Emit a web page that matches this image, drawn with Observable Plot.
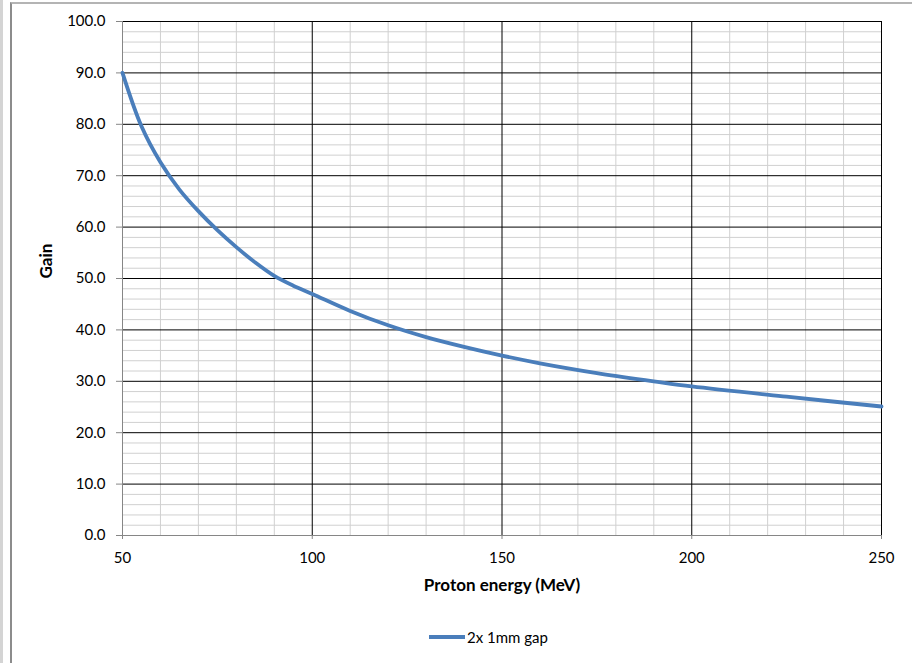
<!DOCTYPE html>
<html>
<head>
<meta charset="utf-8">
<script src="https://cdn.jsdelivr.net/npm/d3@7"></script>
<script src="https://cdn.jsdelivr.net/npm/@observablehq/plot@0.6"></script>
<style>
  html, body { margin: 0; padding: 0; background: #fff; width: 912px; height: 663px; overflow: hidden; }
  body { position: relative; font-family: Lato, "Open Sans", sans-serif; }
  #strip { position: absolute; left: 0; top: 0; width: 3px; height: 663px; background: #d4d4d4; }
  #frame { position: absolute; left: 10px; top: 2px; width: 910px; height: 670px; border-left: 2px solid #8c8c8c; border-top: 2px solid #b4b4b4; pointer-events: none; }
  #chart { position: absolute; left: 0; top: 0; }
  #legend { position: absolute; left: 0; top: 627px; width: 912px; height: 20px; font-size: 15px; color: #000; }
  #legend .sw { position: absolute; left: 429px; top: 8px; width: 36px; height: 4px; background: #4a7ebb; }
  #legend .lb { position: absolute; left: 467px; top: 0px; line-height: 20px; white-space: nowrap; }
</style>
</head>
<body>
<div id="strip"></div>
<div id="chart"></div>
<div id="legend"><div class="sw"></div><div class="lb">2x 1mm gap</div></div>
<div id="frame"></div>
<script>
// Series: proton energy (MeV) vs gain
const energy = [50, 55, 60, 65, 70, 75, 80, 85, 90, 95, 100, 110, 120, 130, 140, 150, 160, 175, 190, 200, 225, 250];
const gain   = [90, 79.6, 72.6, 67.3, 63.1, 59.4, 56.1, 53.1, 50.5, 48.6, 47.0, 43.7, 40.9, 38.6, 36.7, 35.0, 33.5, 31.6, 30.0, 29.0, 27.0, 25.1];
const seriesName = "2x 1mm gap";

// Axis ticks and gridlines
const xTicks = [50, 100, 150, 200, 250];
const yTicks = [0, 10, 20, 30, 40, 50, 60, 70, 80, 90, 100];
const xMajor = [100, 150, 200, 250];
const yMajor = [10, 20, 30, 40, 50, 60, 70, 80, 90, 100];
const xMinor = [60, 70, 80, 90, 110, 120, 130, 140, 160, 170, 180, 190, 210, 220, 230, 240];
const yMinor = d3.range(0, 101, 2).filter(v => v % 10 !== 0);

const data = energy.map((e, i) => ({energy: e, gain: gain[i]}));

const plot = Plot.plot({
  width: 912,
  height: 610,
  marginLeft: 122,
  marginRight: 31,
  marginTop: 21,
  marginBottom: 75,
  style: {fontFamily: "Lato, 'Open Sans', sans-serif", fontSize: "15px", color: "#000", background: "transparent", overflow: "visible"},
  x: {domain: [50, 250], label: null},
  y: {domain: [0, 100], label: null},
  marks: [
    Plot.ruleX(xMinor, {stroke: "#d0d0d0", strokeWidth: 1}),
    Plot.ruleY(yMinor, {stroke: "#d0d0d0", strokeWidth: 1}),
    Plot.ruleX(xMajor, {stroke: "#000", strokeWidth: 1}),
    Plot.ruleY(yMajor, {stroke: "#000", strokeWidth: 1}),
    Plot.ruleX([50], {stroke: "#868686", strokeWidth: 1}),
    Plot.ruleY([0], {stroke: "#868686", strokeWidth: 1}),
    Plot.axisX({ticks: xTicks, tickSize: 4, tickPadding: 13, stroke: "#868686", fontSize: 15, tickFormat: d3.format("d"), label: null}),
    Plot.axisY({ticks: yTicks, tickSize: 6, tickPadding: 11, stroke: "#868686", fontSize: 15, tickFormat: d3.format(".1f"), label: null}),
    Plot.line(data, {x: "energy", y: "gain", stroke: "#4a7ebb", strokeWidth: 3.8, curve: "catmull-rom"}),
    Plot.text(["Gain"], {frameAnchor: "left", dx: -76, rotate: -90, fontWeight: "bold", fontSize: 17, fill: "#000"}),
    Plot.text(["Proton energy (MeV)"], {frameAnchor: "bottom", dy: 55, fontWeight: "bold", fontSize: 17, fill: "#000"})
  ]
});
document.getElementById("chart").appendChild(plot);
document.querySelector("#legend .lb").textContent = seriesName;
</script>
</body>
</html>
